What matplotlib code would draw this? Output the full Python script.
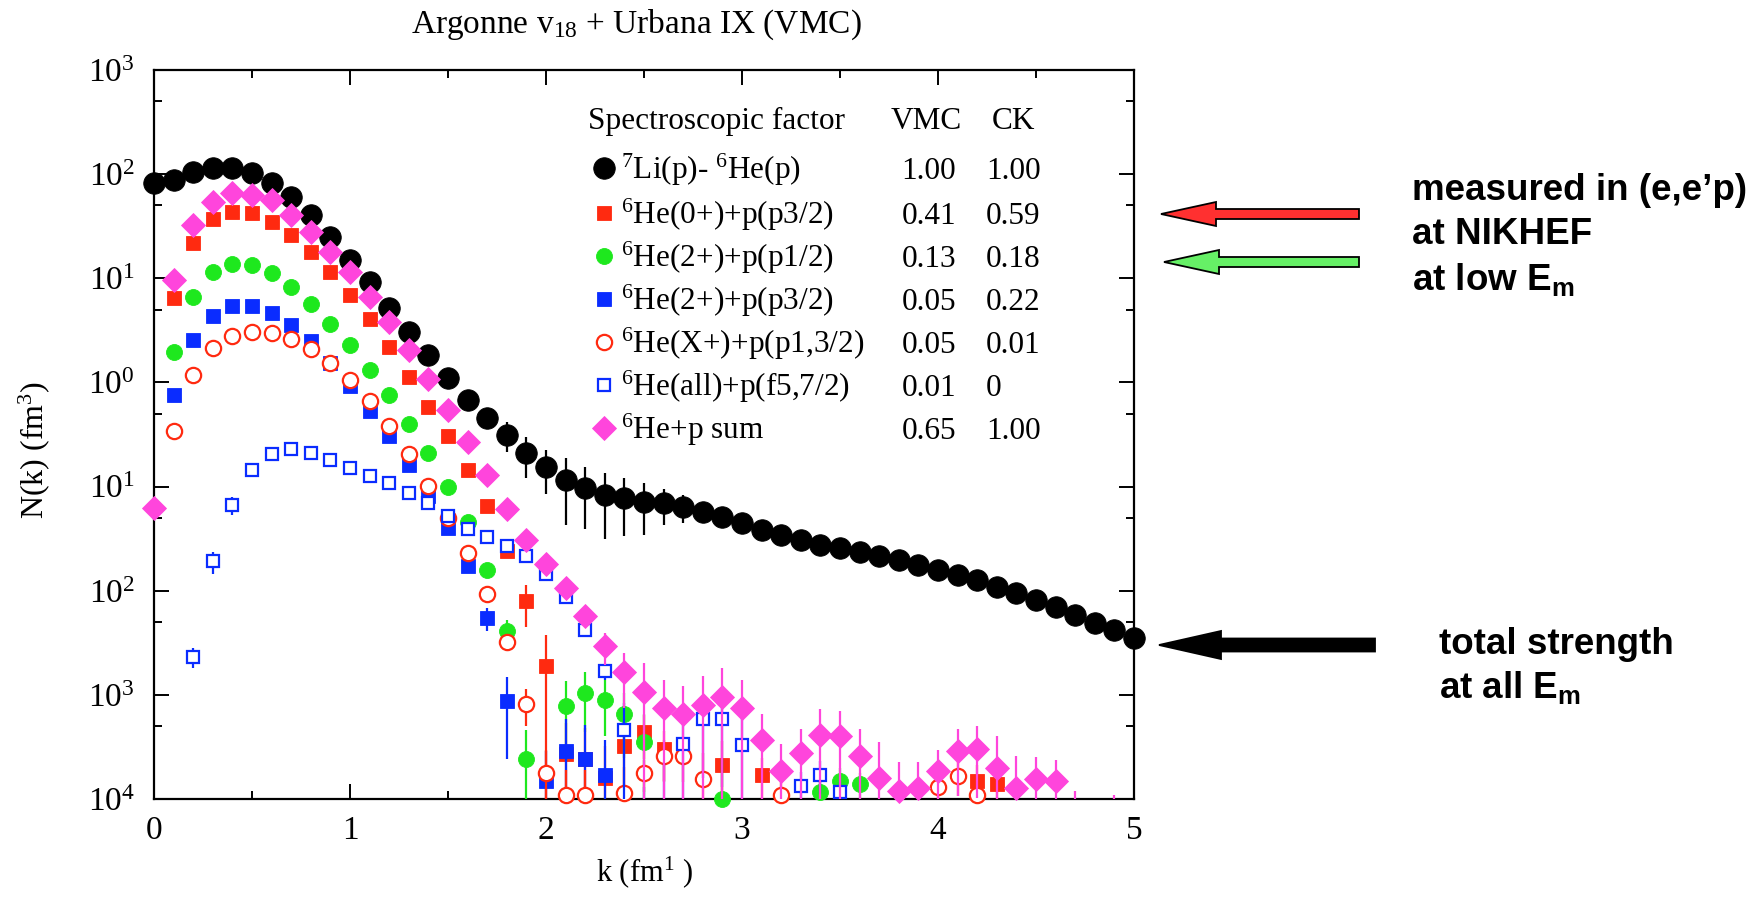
import matplotlib.pyplot as plt
import numpy as np
from matplotlib.patches import FancyArrow
from matplotlib.transforms import IdentityTransform
from matplotlib.ticker import NullFormatter

plt.rcParams['font.family'] = 'Liberation Serif'
plt.rcParams['mathtext.fontset'] = 'custom'
plt.rcParams['mathtext.rm'] = 'Liberation Serif'

nan = np.nan

# momentum grid k (fm^-1), 0 .. 5 in steps of 0.1
k = np.round(np.arange(51) * 0.1, 1)

# 7Li(p) - 6He(p), total
black = [81.8, 87.9, 106, 114, 114, 102, 81.8, 60.8, 40.6, 25.1,
         15.0, 9.31, 5.16, 3.08, 1.84, 1.10, 0.681, 0.454, 0.314, 0.211,
         0.155, 0.116, 0.0973, 0.0832, 0.0776, 0.0715, 0.069, 0.064, 0.0573, 0.0513,
         0.045, 0.0385, 0.0344, 0.0308, 0.0276, 0.0259, 0.0237, 0.0214, 0.0198, 0.0178,
         0.0159, 0.0143, 0.0128, 0.0109, 0.00957, 0.0082, 0.00702, 0.00589, 0.00493, 0.00423,
         0.00354]
black_err = [0] * 16 + [0.04, 0.09, 0.1, 0.09, 0.07, 0.073, 0.058, 0.052, 0.044, 0.037,
                        0.026, 0.019, 0.013, 0.008] + [0] * 21

# 6He(0+)+p(p3/2)
red = [nan, 6.44, 22.0, 36.9, 43.7, 42.7, 35.0, 26.1, 17.7, 11.6,
       6.93, 4.05, 2.21, 1.14, 0.586, 0.303, 0.143, 0.0644, 0.024, 0.00794,
       0.00188, 2.7e-4, 2.4e-4, 1.6e-4, 3.2e-4, 4.4e-4, 3.0e-4, nan, nan, 2.1e-4,
       nan, 1.7e-4, nan, nan, nan, nan, nan, nan, nan, nan,
       nan, nan, 1.5e-4, 1.4e-4, nan, nan, nan, nan, nan, nan,
       nan]
red_err = [0] * 17 + [0.006, 0.003, 0.0035, 0.0019, 2.7e-4, 2.4e-4, 1.6e-4, 2.0e-4, 2.0e-4,
                      1.5e-4, 0, 0, 1.5e-4, 0, 0.8e-4] + [0] * 10 + [0.6e-4, 0.6e-4] + [0] * 7

# 6He(2+)+p(p1/2)
green = [nan, 1.94, 6.59, 11.4, 13.7, 13.5, 11.2, 8.22, 5.68, 3.65,
         2.30, 1.32, 0.76, 0.40, 0.21, 0.0989, 0.0453, 0.0159, 0.00407, 2.4e-4,
         nan, 7.9e-4, 1.04e-3, 9.0e-4, 6.5e-4, 3.5e-4, nan, nan, nan, 1.0e-4,
         nan, nan, nan, nan, 1.17e-4, 1.48e-4, 1.38e-4, nan, nan, nan,
         nan, nan, nan, nan, nan, nan, nan, nan, nan, nan,
         nan]
green_err = [0] * 18 + [1.2e-3, 2.2e-4, 0, 5.6e-4, 6e-4, 5e-4, 4e-4, 3e-4, 0, 0, 0, 1.4e-4,
                        0, 0, 0, 0, 0.4e-4, 0.5e-4, 0.4e-4] + [0] * 14

# 6He(2+)+p(p3/2)
blue = [nan, 0.76, 2.56, 4.36, 5.36, 5.36, 4.69, 3.57, 2.52, 1.55,
        0.927, 0.537, 0.308, 0.162, 0.0804, 0.040, 0.0171, 5.47e-3, 8.7e-4, nan,
        1.5e-4, 2.9e-4, 2.4e-4, 1.7e-4] + [nan] * 27
blue_err = [0] * 17 + [1.4e-3, 6.3e-4, 0, 1.4e-4, 2.9e-4, 2.7e-4, 2.0e-4] + [0] * 27

# 6He(X+)+p(p1,3/2)
red_open = [nan, 0.338, 1.18, 2.13, 2.80, 3.08, 2.97, 2.61, 2.09, 1.53,
            1.06, 0.67, 0.385, 0.204, 0.102, 0.0499, 0.023, 9.3e-3, 3.2e-3, 8.2e-4,
            1.78e-4, 1.1e-4, 1.1e-4, nan, 1.15e-4, 1.78e-4, 2.57e-4, 2.57e-4, 1.55e-4, nan,
            nan, nan, 1.1e-4, nan, nan, nan, nan, nan, nan, nan,
            1.29e-4, 1.66e-4, 1.1e-4, nan, nan, nan, nan, nan, nan, nan,
            nan]
red_open_err = [0] * 18 + [3e-4, 3.2e-4, 1.2e-4, 0.8e-4, 0.8e-4, 0, 0.9e-4, 0.6e-4, 1.1e-4,
                           1.1e-4, 1.2e-4, 0, 0, 0, 0.5e-4] + [0] * 7 + [0.5e-4, 0.6e-4, 0.5e-4] + [0] * 8

# 6He(all)+p(f5,7/2)
blue_open = [nan, nan, 2.31e-3, 0.0191, 0.0668, 0.143, 0.205, 0.229, 0.212, 0.181,
             0.150, 0.127, 0.109, 0.0877, 0.0703, 0.0516, 0.0391, 0.0327, 0.027, 0.0217,
             0.0146, 8.7e-3, 4.23e-3, 1.68e-3, 4.6e-4, 4e-5, 5e-5, 3.4e-4, 5.8e-4, 5.8e-4,
             3.3e-4, nan, nan, 1.32e-4, 1.71e-4, 1.17e-4] + [nan] * 15
blue_open_err = [0, 0, 5e-4, 4.5e-3, 0.013, 0.019, 0.03] + [0] * 15 + \
                [5e-4, 3e-4, 3.8e-4, 0.9e-4, 1.7e-4, 2.6e-4, 4.2e-4, 4.5e-4, 3e-4, 0, 0,
                 0.5e-4, 0.6e-4, 0.3e-4] + [0] * 15

# 6He+p sum
pink = [0.0625, 9.66, 32.5, 54.5, 65.6, 63.1, 56.5, 40.6, 28.1, 18.0,
        11.6, 6.67, 3.84, 2.06, 1.08, 0.546, 0.265, 0.130, 0.0608, 0.0308,
        0.0182, 0.0106, 5.68e-3, 2.92e-3, 1.64e-3, 1.06e-3, 7.5e-4, 6.5e-4, 8.0e-4, 9.5e-4,
        7.5e-4, 3.7e-4, 1.85e-4, 2.77e-4, 4.15e-4, 4.0e-4, 2.57e-4, 1.59e-4, 1.19e-4, 1.28e-4,
        1.85e-4, 2.87e-4, 3.02e-4, 2.0e-4, 1.28e-4, 1.55e-4, 1.48e-4, 5e-5, nan, 5e-5,
        nan]
pink_err = [0] * 23 + [1.0e-3, 0.9e-3, 0.96e-3, 6.5e-4, 5.6e-4, 7.1e-4, 8.5e-4, 6.5e-4, 2.8e-4,
                       1.5e-4, 1.9e-4, 3.2e-4, 3.0e-4, 2.1e-4, 1.9e-4, 1.1e-4, 1.0e-4, 1.1e-4,
                       1.8e-4, 2.0e-4, 2.0e-4, 1.3e-4, 1.0e-4, 0.9e-4, 7e-5, 0, 6e-5, 0]

labels = [r'$\mathregular{^7}$Li(p)- $\mathregular{^6}$He(p)',
          r'$\mathregular{^6}$He(0+)+p(p3/2)',
          r'$\mathregular{^6}$He(2+)+p(p1/2)',
          r'$\mathregular{^6}$He(2+)+p(p3/2)',
          r'$\mathregular{^6}$He(X+)+p(p1,3/2)',
          r'$\mathregular{^6}$He(all)+p(f5,7/2)',
          r'$\mathregular{^6}$He+p sum']
vmc = ['1.00', '0.41', '0.13', '0.05', '0.05', '0.01', '0.65']
ck = ['1.00', '0.59', '0.18', '0.22', '0.01', '0', '1.00']

ytick_vals = [1e-4, 1e-3, 1e-2, 1e-1, 1e0, 1e1, 1e2, 1e3]
ytick_labels = [r'$\mathregular{10^{4}}$', r'$\mathregular{10^{3}}$', r'$\mathregular{10^{2}}$',
                r'$\mathregular{10^{1}}$', r'$\mathregular{10^{0}}$', r'$\mathregular{10^{1}}$',
                r'$\mathregular{10^{2}}$', r'$\mathregular{10^{3}}$']
yminor_vals = [5e-4, 5e-3, 5e-2, 5e-1, 5e0, 5e1, 5e2]

RED = '#ff2a10'
GREEN = '#1ee81e'
BLUE = '#0a2cff'
PINK = '#ff45dc'

# (values, errors, color, marker, size, filled)
series = [
    (black, black_err, 'black', 'o', 15.5, True),
    (red, red_err, RED, 's', 10, True),
    (green, green_err, GREEN, 'o', 11.5, True),
    (blue, blue_err, BLUE, 's', 10, True),
    (red_open, red_open_err, RED, 'o', 11, False),
    (blue_open, blue_open_err, BLUE, 's', 9, False),
    (pink, pink_err, PINK, 'D', 12, True),
]

fig = plt.figure(figsize=(17.64, 8.98), dpi=100)
ax = fig.add_axes([154 / 1764, 99 / 898, 980 / 1764, 729 / 898])
ax.set_yscale('log')
ax.set_xlim(0, 5)
ax.set_ylim(1e-4, 1e3)

for i, (vals, errs, col, mk, ms, filled) in enumerate(series):
    vals = np.array(vals, dtype=float)
    errs = np.array(errs, dtype=float)
    z = 3 + i
    ax.errorbar(k, vals, yerr=errs, fmt='none', ecolor=col, elinewidth=1.6,
                capsize=0, zorder=z)
    shown = np.where((vals >= 1e-4) & (vals <= 1e3), vals, nan)
    ax.plot(k, shown, ls='none', marker=mk, ms=ms,
            mfc=col if filled else 'white', mec=col,
            mew=0.6 if filled else 1.6, clip_on=False, zorder=z + 0.5)

ax.set_xticks([0, 1, 2, 3, 4, 5])
ax.set_xticks([0.5, 1.5, 2.5, 3.5, 4.5], minor=True)
ax.set_yticks(ytick_vals, labels=ytick_labels)
ax.set_yticks(yminor_vals, minor=True)
ax.yaxis.set_minor_formatter(NullFormatter())
ax.tick_params(which='both', direction='in', top=True, right=True, width=1.4)
ax.tick_params(which='major', length=11, labelsize=24)
ax.tick_params(axis='y', which='major', pad=14)
ax.tick_params(axis='x', which='major', pad=12)
ax.tick_params(which='minor', length=6)
for sp in ax.spines.values():
    sp.set_linewidth(1.6)

# legend table
fs = 22.5
ax.text(0.443, 0.929, 'Spectroscopic factor', transform=ax.transAxes, fontsize=fs, va='center')
ax.text(0.752, 0.929, 'VMC', transform=ax.transAxes, fontsize=fs, va='center')
ax.text(0.855, 0.929, 'CK', transform=ax.transAxes, fontsize=fs, va='center')
rows = [0.8656, 0.8038, 0.7449, 0.6859, 0.6269, 0.5679, 0.5089]
for (vals, errs, col, mk, ms, filled), lab, v, c, yy in zip(series, labels, vmc, ck, rows):
    ax.plot([0.459], [yy], transform=ax.transAxes, ls='none', marker=mk, ms=ms,
            mfc=col if filled else 'white', mec=col, mew=0.6 if filled else 1.6,
            clip_on=False, zorder=12)
    ax.text(0.477, yy - 0.0155, lab, transform=ax.transAxes, fontsize=fs, va='baseline')
    ax.text(0.763, yy - 0.0155, v, transform=ax.transAxes, fontsize=fs, va='baseline')
    ax.text(0.849, yy - 0.0155, c, transform=ax.transAxes, fontsize=fs, va='baseline')

fig.text(636 / 1764, 1 - 25 / 898, r'Argonne v$\mathregular{_{18}}$ + Urbana IX (VMC)',
         ha='center', va='center', fontsize=24)
fig.text(644 / 1764, 1 - 872 / 898, r'k (fm$\mathregular{^{1}}$ )',
         ha='center', va='center', fontsize=22)
fig.text(34 / 1764, 1 - 450 / 898, r'N(k) (fm$\mathregular{^{3}}$)',
         ha='center', va='center', rotation=90, fontsize=23)

# annotations on the right
sans = dict(family='Liberation Sans', weight='bold', fontsize=26.5, va='center')
fig.text(1412 / 1764, 1 - 191 / 898, 'measured in (e,e\u2019p)', **sans)
fig.text(1412 / 1764, 1 - 235 / 898, 'at NIKHEF', **sans)
fig.text(1412 / 1764, 1 - 279 / 898, r'at low E$\mathregular{_m}$', **sans)
fig.text(1439 / 1764, 1 - 645 / 898, 'total strength', **sans)
fig.text(1439 / 1764, 1 - 688 / 898, r'at all E$\mathregular{_m}$', **sans)


def arrow(x0, x1, y, w, hw, hl, fc):
    a = FancyArrow(x0, 898 - y, x1 - x0, 0, width=w, head_width=hw, head_length=hl,
                   length_includes_head=True, fc=fc, ec='black', lw=1.3,
                   transform=IdentityTransform())
    fig.add_artist(a)


arrow(1359, 1161, 214, 10, 24, 55, '#ff3030')
arrow(1359, 1164, 262, 10, 24, 55, '#66f066')
arrow(1375, 1159, 645, 13, 28, 62, 'black')

fig.savefig('out.png', dpi=100)
